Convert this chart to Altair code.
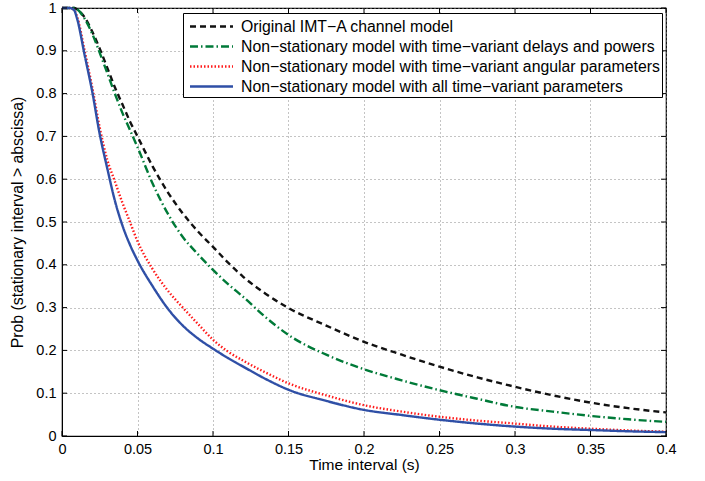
import altair as alt
import pandas as pd

# ---- data ----
series_names = [
    "Original IMT\u2212A channel model",
    "Non\u2212stationary model with time\u2212variant delays and powers",
    "Non\u2212stationary model with time\u2212variant angular parameters",
    "Non\u2212stationary model with all time\u2212variant parameters",
]

x_vals = [0, 0.005, 0.008, 0.01, 0.015, 0.02, 0.025, 0.03, 0.035, 0.04, 0.045,
          0.05, 0.06, 0.07, 0.08, 0.09, 0.1, 0.11, 0.12, 0.135, 0.15, 0.175,
          0.2, 0.225, 0.25, 0.275, 0.3, 0.325, 0.35, 0.375, 0.4]

original = [1, 1, 1, 0.997, 0.978, 0.945, 0.905, 0.86, 0.815, 0.775, 0.735,
            0.7, 0.63, 0.57, 0.52, 0.478, 0.442, 0.405, 0.372, 0.332, 0.299, 0.258,
            0.22, 0.19, 0.162, 0.137, 0.115, 0.095, 0.078, 0.065, 0.055]

delays_powers = [1, 1, 1, 0.997, 0.975, 0.94, 0.895, 0.848, 0.8, 0.755, 0.715,
                 0.675, 0.59, 0.52, 0.465, 0.425, 0.388, 0.355, 0.325, 0.277, 0.236, 0.19,
                 0.156, 0.13, 0.107, 0.087, 0.068, 0.057, 0.047, 0.039, 0.033]

angular = [1, 1, 0.995, 0.98, 0.9, 0.815, 0.72, 0.645, 0.595, 0.545, 0.5,
           0.455, 0.39, 0.34, 0.3, 0.262, 0.225, 0.197, 0.176, 0.148, 0.123, 0.095,
           0.072, 0.057, 0.045, 0.036, 0.029, 0.022, 0.017, 0.013, 0.01]

all_params = [1, 1, 0.995, 0.975, 0.89, 0.805, 0.705, 0.625, 0.55, 0.492, 0.447,
              0.41, 0.35, 0.298, 0.258, 0.228, 0.204, 0.182, 0.162, 0.133, 0.108, 0.082,
              0.061, 0.049, 0.038, 0.029, 0.022, 0.017, 0.014, 0.011, 0.009]

x_ticks = [0, 0.05, 0.1, 0.15, 0.2, 0.25, 0.3, 0.35, 0.4]
y_ticks = [0, 0.1, 0.2, 0.3, 0.4, 0.5, 0.6, 0.7, 0.8, 0.9, 1.0]

colors = ["#111111", "#007a38", "#ff1a1a", "#2f4fa6"]
dashes = [[6, 4], [8, 3, 1.5, 3], [1.5, 2], [1, 0]]
widths = [2.4, 2.4, 1.2, 2.8]

rows = []
for name, ys in zip(series_names, [original, delays_powers, angular, all_params]):
    for xv, yv in zip(x_vals, ys):
        rows.append({"series": name, "t": xv, "p": yv})
df = pd.DataFrame(rows)
xt = pd.DataFrame({"t": x_ticks})
yt = pd.DataFrame({"p": y_ticks})

W, H = 604, 428
FONT = "Liberation Sans"

xscale = alt.Scale(domain=[0, 0.4], nice=False, zero=False)
yscale = alt.Scale(domain=[0, 1], nice=False)

legend = alt.Legend(
    title=None, orient="none", legendX=121, legendY=5,
    symbolType="M-2.15,0H2.15", symbolSize=400, symbolOffset=15, labelOffset=18,
    labelFont=FONT, labelFontSize=15.8,
    labelColor="#000", strokeColor="#000", fillColor="white", padding=2,
    rowPadding=0, labelLimit=700,
)

axis_common = dict(
    grid=True, gridDash=[1, 3], gridColor="#888", gridWidth=1,
    tickSize=0, domainColor="#000",
    labelFont=FONT, labelFontSize=14.5, labelColor="#000",
    titleFont=FONT, titleFontWeight="normal", titleColor="#000",
    labelFlush=False,
)

lines = alt.Chart(df).mark_line(interpolate="monotone").encode(
    x=alt.X("t:Q", scale=xscale,
            axis=alt.Axis(values=x_ticks, format="~g", title="Time interval (s)",
                          labelPadding=6, titleFontSize=15.5, titlePadding=2,
                          **axis_common)),
    y=alt.Y("p:Q", scale=yscale,
            axis=alt.Axis(values=y_ticks, format="~g",
                          title="Prob (stationary interval > abscissa)",
                          labelPadding=6, titleFontSize=15.8, titlePadding=10,
                          **axis_common)),
    color=alt.Color("series:N", scale=alt.Scale(domain=series_names, range=colors), legend=legend),
    strokeDash=alt.StrokeDash("series:N", scale=alt.Scale(domain=series_names, range=dashes), legend=legend),
    strokeWidth=alt.StrokeWidth("series:N", scale=alt.Scale(domain=series_names, range=widths), legend=legend),
)

tick_len = 5
bx = alt.Chart(xt).mark_rule(color="#000", strokeWidth=1).encode(
    x=alt.X("t:Q", scale=xscale), y=alt.value(H), y2=alt.value(H - tick_len))
tx = alt.Chart(xt).mark_rule(color="#000", strokeWidth=1).encode(
    x=alt.X("t:Q", scale=xscale), y=alt.value(0), y2=alt.value(tick_len))
ly = alt.Chart(yt).mark_rule(color="#000", strokeWidth=1).encode(
    y=alt.Y("p:Q", scale=yscale), x=alt.value(0), x2=alt.value(tick_len))
ry = alt.Chart(yt).mark_rule(color="#000", strokeWidth=1).encode(
    y=alt.Y("p:Q", scale=yscale), x=alt.value(W), x2=alt.value(W - tick_len))

chart = alt.layer(lines, bx, tx, ly, ry).properties(
    width=W, height=H,
    autosize=alt.AutoSizeParams(type="none"),
    padding={"left": 62, "top": 8, "right": 39, "bottom": 45},
    background="white",
).configure_view(stroke="#000", strokeWidth=1.2)

chart.save("out.html", embed_options={"renderer": "svg", "actions": False})
